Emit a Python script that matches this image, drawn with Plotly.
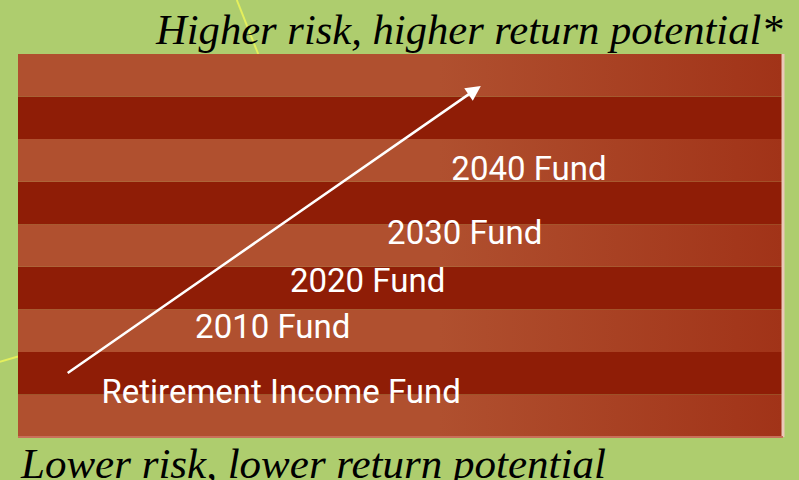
import plotly.graph_objects as go

# stripe bands, bottom to top (0 = light, 1 = dark)
bands = [0, 1, 0, 1, 0, 1, 0, 1, 0]

# fund labels and where they sit on the striped panel
funds = ["Retirement Income Fund", "2010 Fund", "2020 Fund", "2030 Fund", "2040 Fund"]
fund_x = [0.344, 0.333, 0.457, 0.584, 0.668]
fund_y = [1.00, 2.51, 3.60, 4.72, 6.23]

# risk arrow: tail and head
arrow_x = [0.063, 0.605]
arrow_y = [1.48, 8.25]

top_label = "<i>Higher risk, higher return potential*</i>"
bottom_label = "<i>Lower risk, lower return potential</i>"

BG = "#aecd6e"
LIGHT = "#b0502f"
LIGHT_RIGHT = "#a13318"
DARK = "#8f1d06"

fig = go.Figure()

# stripes
for i, b in enumerate(bands):
    if b == 1:
        fig.add_trace(go.Scatter(
            x=[0, 1, 1, 0, 0], y=[i, i, i + 1, i + 1, i],
            fill="toself", fillcolor=DARK, mode="lines",
            line=dict(width=0), hoverinfo="skip", showlegend=False))
    else:
        fig.add_trace(go.Scatter(
            x=[0, 1, 1, 0, 0], y=[i, i, i + 1, i + 1, i],
            fill="toself", mode="lines", line=dict(width=0),
            fillgradient=dict(type="horizontal",
                              colorscale=[[0, LIGHT], [0.55, LIGHT], [1, LIGHT_RIGHT]]),
            hoverinfo="skip", showlegend=False))

# fund names
fig.add_trace(go.Scatter(
    x=fund_x, y=fund_y, mode="text", text=funds,
    textfont=dict(family="Roboto, Arial Narrow, sans-serif", size=33, color="white"),
    hoverinfo="skip", showlegend=False))

# arrow
fig.add_annotation(
    x=arrow_x[1], y=arrow_y[1], ax=arrow_x[0], ay=arrow_y[0],
    xref="x", yref="y", axref="x", ayref="y", text="",
    showarrow=True, arrowhead=2, arrowsize=1.2, arrowwidth=2.5, arrowcolor="white")

# risk labels
fig.add_annotation(
    x=1.003, y=1.065, xref="paper", yref="paper", xanchor="right", yanchor="middle",
    text=top_label, showarrow=False,
    font=dict(family="Liberation Serif, Times New Roman, serif", size=42.6, color="black"))
fig.add_annotation(
    x=0.0, y=-0.07, xref="paper", yref="paper", xanchor="left", yanchor="middle",
    text=bottom_label, showarrow=False,
    font=dict(family="Liberation Serif, Times New Roman, serif", size=43, color="black"))

# faint yellow background strokes and panel edges
fig.add_shape(type="line", xref="paper", yref="paper", x0=0.286, y0=1.141, x1=0.314, y1=1.0,
              line=dict(color="#e4ef5c", width=2), layer="below")
fig.add_shape(type="line", xref="paper", yref="paper", x0=-0.024, y0=0.196, x1=0.0, y1=0.21,
              line=dict(color="#e4ef5c", width=2), layer="below")
fig.add_shape(type="line", xref="paper", yref="paper", x0=1.0, y0=0, x1=1.0, y1=1,
              line=dict(color="#ecc8b8", width=3))
fig.add_shape(type="line", xref="paper", yref="paper", x0=0, y0=0, x1=1.0, y1=0,
              line=dict(color="#c8705a", width=2))

fig.update_xaxes(range=[0, 1], visible=False, fixedrange=True)
fig.update_yaxes(range=[0, 9], visible=False, fixedrange=True)
fig.update_layout(
    width=799, height=480, autosize=False,
    margin=dict(l=18, r=16, t=54, b=43),
    paper_bgcolor=BG, plot_bgcolor=BG,
)

fig.write_html("out.html", config={"displayModeBar": False},
               post_script="document.body.style.margin='0';")
